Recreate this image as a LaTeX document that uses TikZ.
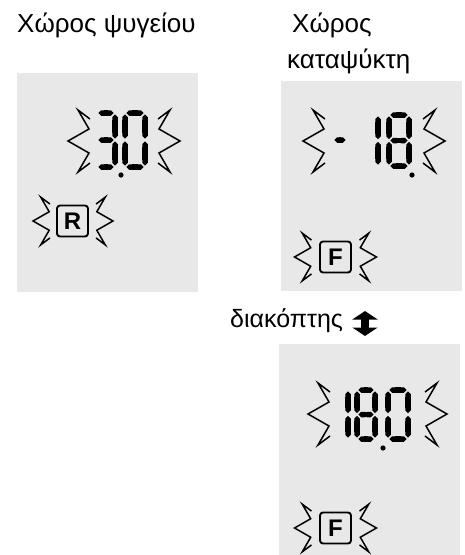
\documentclass[tikz,border=0pt]{standalone}
\usepackage{fontspec}
\setmainfont{Liberation Sans}
\usepackage{xcolor}
\usepackage{tikz}
\usetikzlibrary{positioning,arrows.meta}
\definecolor{lcdgray}{RGB}{232,232,232}

\begin{document}
\begin{tikzpicture}[x=1pt, y=-1pt, font=\fontsize{26}{30}\selectfont]
\tikzstyle{panel}=[fill=lcdgray, draw=none]
\tikzstyle{label}=[inner sep=0pt, anchor=base west]
\tikzstyle{seg}=[line width=5.5pt, {Triangle Cap}-{Triangle Cap}]
\tikzstyle{blink}=[line width=1.5pt, line join=miter]
\tikzstyle{ind}=[draw, line width=1.9pt, rounded corners=3pt, minimum size=31pt,
  inner sep=0pt, font=\fontsize{24}{24}\bfseries\selectfont]
\useasboundingbox (0,0) rectangle (465,555);
\fill[panel] (17,73) rectangle (198,292);
\fill[panel] (281,81) rectangle (462,291);
\fill[panel] (279,344) rectangle (460,555);
\node[label] (fridge) at (17,32) {Χώρος ψυγείου};
\node[label] (freezer1) at (292,32) {Χώρος};
\node[label] (freezer2) at (287,68) {καταψύκτη};
\node[label, font=\fontsize{25}{30}\selectfont] (switch) at (230,327) {διακόπτης};
\coordinate (swtop) at (365,311);
\coordinate (swbot) at (365,336);
\draw[line width=8.5pt, {Triangle[width=25pt,length=8.5pt]}-{Triangle[width=25pt,length=8.5pt]}]
  (swbot) -- (swtop);
\node[ind] (rbox) at (72.5,221) {R};
\node[ind] (fbox1) at (335.5,257) {F};
\node[ind] (fbox2) at (335.5,528) {F};
\foreach \x/\y/\d/\k in {79/141/1/1, 169/141/-1/1, 41.5/221/1/.77, 104.5/221/-1/.77,
    314/141/1/1, 434/141/-1/1, 303/257/1/.77, 368/257/-1/.77,
    319/414/1/1, 436/414/-1/1, 303/528/1/.77, 368/528/-1/.77}
  \draw[blink, shift={(\x,\y)}, xscale=\d*\k, yscale=\k]
    (11,-22) -- (-1,-31) -- (10,-12) -- (-11,0) -- (10,12) -- (-1,31) -- (11,22);
\foreach \dx/\dy/\w/\h/\segs in {97/113/18/54/{a,b,c,d,g}, 125/113/20/54/{a,b,c,d,e,f},
    333/113/14/54/{g}, 360/115/18/51/{b,c}, 389/115/20/51/{a,b,c,d,e,f,g},
    330/390/18/49/{b,c}, 357/390/18/49/{a,b,c,d,e,f,g}, 388/390/20/49/{a,b,c,d,e,f}} {
  \begin{scope}[shift={(\dx,\dy)}]
    \coordinate (a1) at (1.3,0);          \coordinate (a2) at (\w-1.3,0);
    \coordinate (b1) at (\w,1.3);         \coordinate (b2) at (\w,\h/2-1.3);
    \coordinate (c1) at (\w,\h/2+1.3);    \coordinate (c2) at (\w,\h-1.3);
    \coordinate (d1) at (1.3,\h);         \coordinate (d2) at (\w-1.3,\h);
    \coordinate (e1) at (0,\h/2+1.3);     \coordinate (e2) at (0,\h-1.3);
    \coordinate (f1) at (0,1.3);          \coordinate (f2) at (0,\h/2-1.3);
    \coordinate (g1) at (1.3,\h/2);       \coordinate (g2) at (\w-1.3,\h/2);
    \foreach \s in \segs \draw[seg] (\s1) -- (\s2);
  \end{scope}
}
\foreach \x/\y in {121/175, 412/175, 383/448}
  \fill (\x,\y) circle (2.6pt);
\end{tikzpicture}
\end{document}
